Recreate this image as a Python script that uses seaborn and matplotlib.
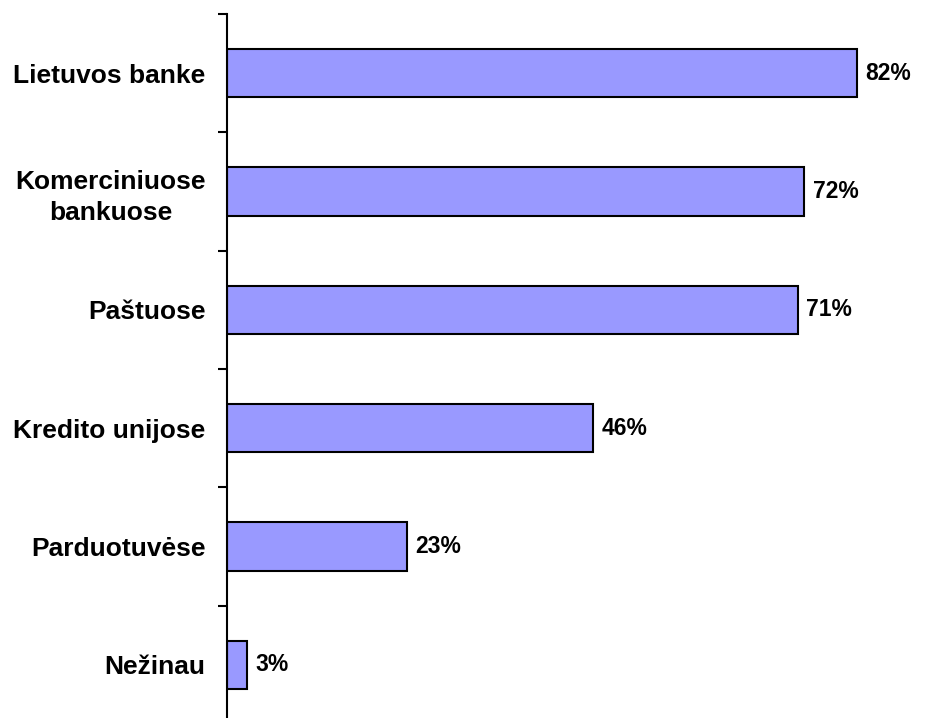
import numpy as np
import pandas as pd
import seaborn as sns
import matplotlib.pyplot as plt

categories = ["Lietuvos banke", "Komerciniuose\nbankuose", "Paštuose",
              "Kredito unijose", "Parduotuvėse", "Nežinau"]
# bar lengths, printed labels as shown
bar_values = [78.8, 72.2, 71.4, 45.8, 22.6, 2.6]
value_labels = ["82%", "72%", "71%", "46%", "23%", "3%"]

df = pd.DataFrame({"category": categories, "value": bar_values})

sns.set_style("white")
plt.rcParams["font.family"] = ["Liberation Sans", "DejaVu Sans"]
plt.rcParams["font.weight"] = "bold"
plt.rcParams["text.color"] = "black"
plt.rcParams["ytick.color"] = "black"
plt.rcParams["ytick.labelcolor"] = "black"

fig = plt.figure(figsize=(9.41, 7.18), dpi=100)
ax = fig.add_axes([226.5 / 941, -6 / 718, 714.5 / 941, 710 / 718])

sns.barplot(data=df, x="value", y="category", orient="h", color="#9999FF",
            saturation=1, edgecolor="black", linewidth=1.5, width=0.41, ax=ax)

for i, lab in enumerate(value_labels):
    ax.annotate(lab, (bar_values[i], i), xytext=(6, 0), textcoords="offset points",
                ha="left", va="center", fontsize=16.5, fontweight="bold", color="black")

ax.set_xlim(0, 89.3)
ax.set_ylim(len(categories) - 0.5, -0.5)
ax.set_xlabel("")
ax.set_ylabel("")
ax.set_xticks([])

for s in ["top", "right", "bottom"]:
    ax.spines[s].set_visible(False)
ax.spines["left"].set_linewidth(1.5)
ax.spines["left"].set_color("black")

ax.set_yticks(range(len(categories)))
ax.set_yticklabels(categories, fontsize=19, fontweight="bold", color="black")
ax.tick_params(axis="y", which="major", length=0, pad=15)
ax.set_yticks(np.arange(-0.5, len(categories), 1.0), minor=True)
ax.tick_params(axis="y", which="minor", length=6.5, width=1.5, color="black", left=True)
for t in ax.get_yticklabels():
    t.set_multialignment("center")
    t.set_linespacing(1.35)

fig.savefig("out.png", dpi=100)
